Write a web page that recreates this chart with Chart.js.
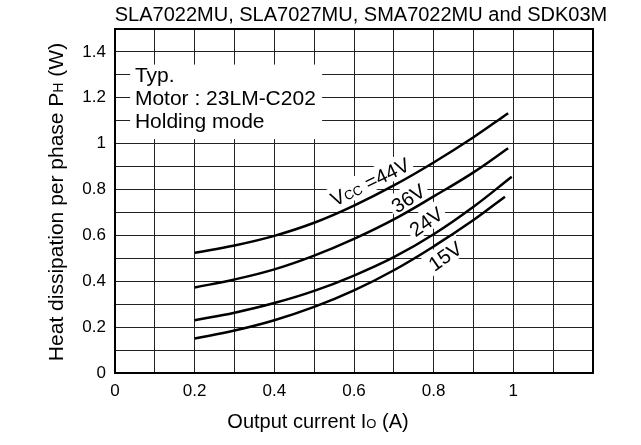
<!DOCTYPE html>
<html lang="en">
<head>
  <meta charset="UTF-8" />
  <title>Heat dissipation per phase</title>
  <script src="https://cdn.jsdelivr.net/npm/chart.js"></script>
  <style>
    body { margin: 0; background: #fff; }
    #wrap { width: 641px; height: 445px; }
  </style>
</head>
<body>
  <div id="wrap">
    <canvas id="grafico" width="641" height="445"></canvas>
  </div>

  <script>
    // dados (Io em A, PH em W)
    const io44 = [0.2, 0.3, 0.4, 0.5, 0.6, 0.7, 0.8, 0.9, 0.987];
    const ph44 = [0.524, 0.556, 0.598, 0.655, 0.730, 0.818, 0.918, 1.028, 1.133];
    const io36 = [0.2, 0.3, 0.4, 0.5, 0.6, 0.7, 0.8, 0.9, 0.987];
    const ph36 = [0.373, 0.408, 0.452, 0.512, 0.585, 0.670, 0.770, 0.875, 0.980];
    const io24 = [0.2, 0.3, 0.4, 0.5, 0.6, 0.7, 0.8, 0.9, 0.996];
    const ph24 = [0.230, 0.263, 0.305, 0.358, 0.425, 0.505, 0.605, 0.725, 0.856];
    const io15 = [0.2, 0.3, 0.4, 0.5, 0.6, 0.7, 0.8, 0.9, 0.979];
    const ph15 = [0.150, 0.185, 0.230, 0.288, 0.360, 0.448, 0.552, 0.667, 0.769];

    const xTickLabels = ["0", "0.2", "0.4", "0.6", "0.8", "1"];
    const yTickLabels = ["0", "0.2", "0.4", "0.6", "0.8", "1", "1.2", "1.4"];

    const titulo = "SLA7022MU, SLA7027MU, SMA7022MU and SDK03M";
    const notas = ["Typ.", "Motor : 23LM-C202", "Holding mode"];

    // rótulos das curvas: posição em unidades dos eixos
    const rotulos = [
      { runs: [["V", 20], ["CC", 13], [" =44V", 20]], x: 0.640, y: 0.834, ang: -26 },
      { runs: [["36V", 20]], x: 0.736, y: 0.762, ang: -33 },
      { runs: [["24V", 20]], x: 0.781, y: 0.660, ang: -35 },
      { runs: [["15V", 20]], x: 0.8285, y: 0.510, ang: -35 }
    ];

    const FONTE = "'Liberation Sans', Arial, Helvetica, sans-serif";
    Chart.defaults.font.family = FONTE;
    Chart.defaults.color = "#000";

    const pts = (xs, ys) => xs.map((x, i) => ({ x: x, y: ys[i] }));

    function larguraRuns(ctx, runs) {
      let w = 0;
      runs.forEach(r => { ctx.font = r[1] + "px " + FONTE; w += ctx.measureText(r[0]).width; });
      return w;
    }
    function desenhaRuns(ctx, runs, x, y) {
      // x = início, y = linha de base
      runs.forEach(r => {
        ctx.font = r[1] + "px " + FONTE;
        ctx.fillText(r[0], x, y);
        x += ctx.measureText(r[0]).width;
      });
    }

    const overlay = {
      id: "overlay",
      beforeDatasetsDraw(chart) {
        const ctx = chart.ctx, xs = chart.scales.x, ys = chart.scales.y;
        ctx.save();
        // caixa de notas
        const bx = xs.getPixelForValue(0.038), by = ys.getPixelForValue(1.345);
        const bw = xs.getPixelForValue(0.52) - bx, bh = ys.getPixelForValue(1.02) - by;
        ctx.fillStyle = "#fff";
        ctx.fillRect(bx, by, bw, bh);
        ctx.fillStyle = "#000";
        ctx.font = "21px " + FONTE;
        ctx.textBaseline = "middle";
        ctx.textAlign = "left";
        notas.forEach((t, i) => {
          ctx.fillText(t, xs.getPixelForValue(0.05), ys.getPixelForValue(1.3 - 0.1 * i) + 1);
        });
        // rótulos das curvas
        ctx.textBaseline = "alphabetic";
        rotulos.forEach(r => {
          const w = larguraRuns(ctx, r.runs);
          ctx.save();
          ctx.translate(xs.getPixelForValue(r.x), ys.getPixelForValue(r.y));
          ctx.rotate(r.ang * Math.PI / 180);
          ctx.fillStyle = "#fff";
          ctx.fillRect(-w / 2 - 3, -12, w + 6, 22);
          ctx.fillStyle = "#000";
          desenhaRuns(ctx, r.runs, -w / 2, 7);
          ctx.restore();
        });
        ctx.restore();
      },
      afterDraw(chart) {
        const ctx = chart.ctx, a = chart.chartArea;
        ctx.save();
        ctx.strokeStyle = "#000";
        ctx.lineWidth = 2;
        ctx.strokeRect(a.left, a.top, a.right - a.left, a.bottom - a.top);
        ctx.fillStyle = "#000";
        ctx.textBaseline = "alphabetic";
        // título
        ctx.font = "20px " + FONTE;
        ctx.textAlign = "center";
        ctx.fillText(titulo, 361, 21);
        ctx.textAlign = "left";
        // título eixo x
        const rx = [["Output current I", 20], ["O", 13], [" (A)", 20]];
        desenhaRuns(ctx, rx, 318 - larguraRuns(ctx, rx) / 2, 428);
        // título eixo y
        const ry = [["Heat dissipation per phase P", 21], ["H", 14], [" (W)", 21]];
        ctx.translate(63, 202);
        ctx.rotate(-Math.PI / 2);
        desenhaRuns(ctx, ry, -larguraRuns(ctx, ry) / 2, 0);
        ctx.restore();
      }
    };

    const linha = (dados) => ({
      data: dados,
      borderColor: "#000",
      borderWidth: 2.5,
      pointRadius: 0,
      fill: false,
      tension: 0.4
    });

    new Chart(document.getElementById("grafico").getContext("2d"), {
      type: "line",
      data: {
        datasets: [
          linha(pts(io44, ph44)),
          linha(pts(io36, ph36)),
          linha(pts(io24, ph24)),
          linha(pts(io15, ph15))
        ]
      },
      options: {
        responsive: false,
        animation: false,
        layout: { padding: { left: 0, right: 48, top: 29, bottom: 0 } },
        plugins: { legend: { display: false }, tooltip: { enabled: false } },
        scales: {
          x: {
            type: "linear",
            min: 0, max: 1.2,
            afterFit: s => { s.height = 72; },
            grid: { color: "#222", lineWidth: 1, drawTicks: false },
            border: { color: "#000", width: 2 },
            ticks: {
              stepSize: 0.1, padding: 8, maxRotation: 0, autoSkip: false,
              font: { size: 17 },
              callback: v => {
                const k = Math.round(v * 10);
                return k % 2 === 0 ? (xTickLabels[k / 2] || "") : "";
              }
            }
          },
          y: {
            type: "linear",
            min: 0, max: 1.5,
            afterFit: s => { s.width = 115; },
            grid: { color: "#222", lineWidth: 1, drawTicks: false },
            border: { color: "#000", width: 2 },
            ticks: {
              stepSize: 0.1, padding: 9, autoSkip: false,
              font: { size: 17 },
              callback: v => {
                const k = Math.round(v * 10);
                return k % 2 === 0 ? (yTickLabels[k / 2] || "") : "";
              }
            }
          }
        }
      },
      plugins: [overlay]
    });
  </script>
</body>
</html>
